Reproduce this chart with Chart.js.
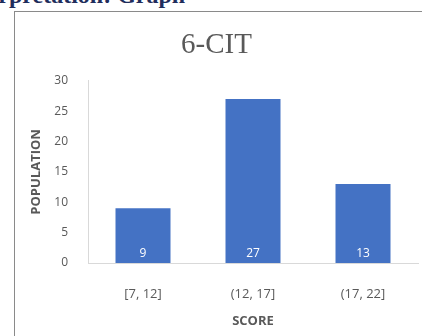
<!DOCTYPE html>
<html>
<head>
<meta charset="utf-8">
<script src="https://cdn.jsdelivr.net/npm/chart.js@4.4.0/dist/chart.umd.min.js"></script>
<style>
    body { margin: 0; background: #fff; overflow: hidden; }
    #heading {
        position: absolute; left: -43px; top: -18px; line-height: 1;
        font: bold 24px "Liberation Serif", serif; color: #1f2d5c; white-space: nowrap;
    }
    #box {
        position: absolute; left: 14px; top: 11px; width: 420px; height: 340px;
        border-left: 1px solid #8a8a8a; border-top: 1px solid #8a8a8a;
    }
    #chartWrap { position: absolute; left: 0; top: 0; width: 407px; height: 324px; }
</style>
</head>
<body>
<div id="heading">Interpretation: Graph</div>
<div id="box">
    <div id="chartWrap"><canvas id="citChart"></canvas></div>
</div>
<script>
const categories = ['[7, 12]', '(12, 17]', '(17, 22]'];
const population = [9, 27, 13];
const yTicks = [0, 5, 10, 15, 20, 25, 30];

// white value labels near the bottom of each bar
const barLabels = {
    id: 'barLabels',
    afterDatasetsDraw(chart) {
        const ctx = chart.ctx;
        const meta = chart.getDatasetMeta(0);
        ctx.save();
        ctx.fillStyle = '#ffffff';
        ctx.font = '12px "Open Sans", sans-serif';
        ctx.textAlign = 'center';
        ctx.textBaseline = 'middle';
        meta.data.forEach(function (bar, i) {
            ctx.fillText(population[i], bar.x, bar.base - 9);
        });
        ctx.restore();
    }
};

document.addEventListener('DOMContentLoaded', function () {
    const ctx = document.getElementById('citChart').getContext('2d');
    new Chart(ctx, {
        type: 'bar',
        data: {
            labels: categories,
            datasets: [{
                label: 'Population',
                data: population,
                backgroundColor: '#4472c4',
                categoryPercentage: 0.5,
                barPercentage: 1
            }]
        },
        options: {
            responsive: true,
            maintainAspectRatio: false,
            animation: false,
            layout: { padding: { left: 0, right: 4, top: 0, bottom: 0 } },
            plugins: {
                legend: { display: false },
                tooltip: { enabled: false },
                title: {
                    display: true,
                    text: '6-CIT',
                    color: '#595959',
                    font: { family: '"Liberation Serif", serif', size: 29, weight: 'normal' },
                    padding: { top: 16, bottom: 18 }
                }
            },
            scales: {
                x: {
                    grid: { display: false },
                    border: { display: true, color: '#d9d9d9' },
                    ticks: {
                        color: '#595959',
                        font: { family: '"Open Sans", sans-serif', size: 13 },
                        padding: 15
                    },
                    title: {
                        display: true,
                        text: 'SCORE',
                        color: '#595959',
                        font: { family: '"Open Sans", sans-serif', size: 13, weight: 'bold' },
                        padding: { top: 0, bottom: 7 }
                    },
                    afterFit: function (scale) { scale.height = 73; }
                },
                y: {
                    min: 0,
                    max: 30,
                    afterBuildTicks: function (scale) {
                        scale.ticks = yTicks.map(function (v) { return { value: v }; });
                    },
                    grid: { display: false },
                    border: { display: true, color: '#d9d9d9' },
                    ticks: {
                        color: '#595959',
                        font: { family: '"Open Sans", sans-serif', size: 12 },
                        padding: 12
                    },
                    title: {
                        display: true,
                        text: 'POPULATION',
                        color: '#595959',
                        font: { family: '"Open Sans", sans-serif', size: 13, weight: 'bold' },
                        padding: { top: 13, bottom: 0 }
                    },
                    afterFit: function (scale) { scale.width = 73; }
                }
            }
        },
        plugins: [barLabels]
    });
});
</script>
</body>
</html>
